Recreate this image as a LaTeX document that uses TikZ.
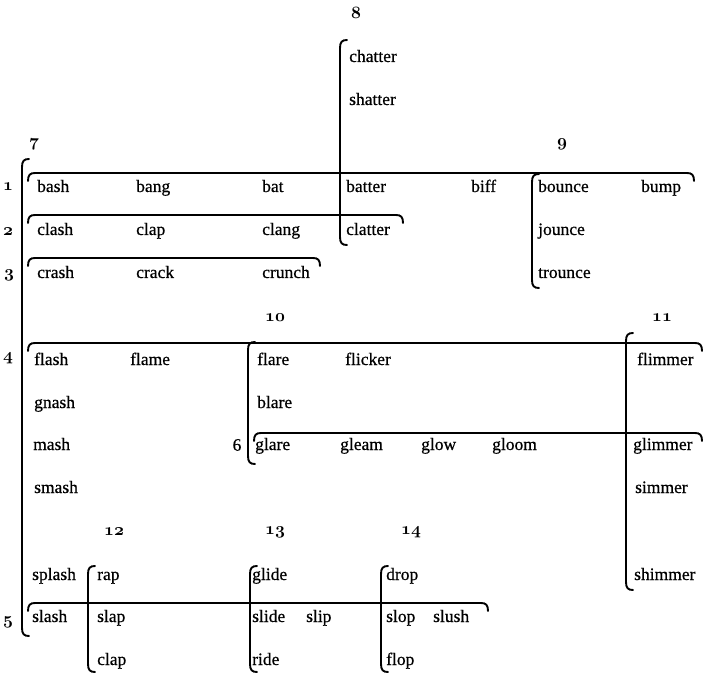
\documentclass[tikz,border=0pt]{standalone}
\usepackage{fontspec}
\setmainfont{Liberation Serif}
\newfontfamily\wordfamily[FakeBold=0.6]{Liberation Serif}
\newcommand\wordfont{\wordfamily\fontsize{17.5}{20}\selectfont}
\newcommand\numfont{\fontsize{17}{19}\selectfont\boldmath}
\newcommand\hbr[3]{\draw[brk] (#2,#1+8) .. controls (#2,#1+2) and (#2+2,#1) .. (#2+7,#1) -- (#3-7,#1) .. controls (#3-2,#1) and (#3,#1+2) .. (#3,#1+8);}
\newcommand\vbr[3]{\draw[brk] (#1+7,#2) .. controls (#1+2,#2) and (#1,#2+2) .. (#1,#2+8) -- (#1,#3-8) .. controls (#1,#3-2) and (#1+2,#3) .. (#1+7,#3);}
\begin{document}
\begin{tikzpicture}[x=1pt,y=-1pt,
  word/.style={anchor=base west,inner sep=0pt,font=\wordfont},
  num/.style={anchor=center,inner sep=0pt,font=\numfont},
  brk/.style={line width=1.9pt,line cap=round}]
\useasboundingbox (0,0) rectangle (704,676);
% brackets (horizontal)
\hbr{173}{28}{694}
\hbr{215}{28}{403}
\hbr{258}{28}{320}
\hbr{343}{28}{702}
\hbr{433}{254}{702}
\hbr{603}{28}{488}
% brackets (vertical)
\vbr{22}{159}{636}
\vbr{340}{40}{245}
\vbr{532}{174}{288}
\vbr{248}{342}{464}
\vbr{626}{333}{590}
\vbr{88}{566}{672}
\vbr{250}{566}{672}
\vbr{381}{566}{672}
% group numbers
\node[num] (n8) at (356,13) {$\mathnormal{8}$};
\node[num] (n7) at (34,144) {$\mathnormal{7}$};
\node[num] (n9) at (562,144) {$\mathnormal{9}$};
\node[num] (n10) at (275,318) {$\mathnormal{10}$};
\node[num] (n11) at (662,318) {$\mathnormal{11}$};
\node[num] (n12) at (114,532) {$\mathnormal{12}$};
\node[num] (n13) at (275,532) {$\mathnormal{13}$};
\node[num] (n14) at (411,532) {$\mathnormal{14}$};
\node[num] (r1) at (8,187) {$\mathnormal{1}$};
\node[num] (r2) at (8,232) {$\mathnormal{2}$};
\node[num] (r3) at (9,275) {$\mathnormal{3}$};
\node[num] (r4) at (8,358) {$\mathnormal{4}$};
\node[num] (r5) at (8,622) {$\mathnormal{5}$};
\node[anchor=center,inner sep=0pt,font=\wordfont] (r6) at (237,445) {6};
% words
\node[word] (chatter) at (349,62) {chatter};
\node[word] (shatter) at (349,105) {shatter};
\node[word] (bash) at (37,192) {bash};
\node[word] (bang) at (136,192) {bang};
\node[word] (bat) at (262,192) {bat};
\node[word] (batter) at (346,192) {batter};
\node[word] (biff) at (471,192) {biff};
\node[word] (bounce) at (538,192) {bounce};
\node[word] (bump) at (641,192) {bump};
\node[word] (clash) at (37,235) {clash};
\node[word] (clap) at (136,235) {clap};
\node[word] (clang) at (262,235) {clang};
\node[word] (clatter) at (346,235) {clatter};
\node[word] (jounce) at (538,235) {jounce};
\node[word] (crash) at (37,278) {crash};
\node[word] (crack) at (136,278) {crack};
\node[word] (crunch) at (262,278) {crunch};
\node[word] (trounce) at (538,278) {trounce};
\node[word] (flash) at (34,365) {flash};
\node[word] (flame) at (130,365) {flame};
\node[word] (flare) at (257,365) {flare};
\node[word] (flicker) at (345,365) {flicker};
\node[word] (flimmer) at (637,365) {flimmer};
\node[word] (gnash) at (34,408) {gnash};
\node[word] (blare) at (257,408) {blare};
\node[word] (mash) at (33,450) {mash};
\node[word] (glare) at (255,450) {glare};
\node[word] (gleam) at (340,450) {gleam};
\node[word] (glow) at (421,450) {glow};
\node[word] (gloom) at (492,450) {gloom};
\node[word] (glimmer) at (633,450) {glimmer};
\node[word] (smash) at (34,493) {smash};
\node[word] (simmer) at (635,493) {simmer};
\node[word] (splash) at (32,580) {splash};
\node[word] (rap) at (97,580) {rap};
\node[word] (glide) at (252,580) {glide};
\node[word] (drop) at (386,580) {drop};
\node[word] (shimmer) at (634,580) {shimmer};
\node[word] (slash) at (32,622) {slash};
\node[word] (slap) at (97,622) {slap};
\node[word] (slide) at (252,622) {slide};
\node[word] (slip) at (306,622) {slip};
\node[word] (slop) at (386,622) {slop};
\node[word] (slush) at (433,622) {slush};
\node[word] (clapb) at (97,665) {clap};
\node[word] (ride) at (252,665) {ride};
\node[word] (flop) at (386,665) {flop};
\end{tikzpicture}
\end{document}
